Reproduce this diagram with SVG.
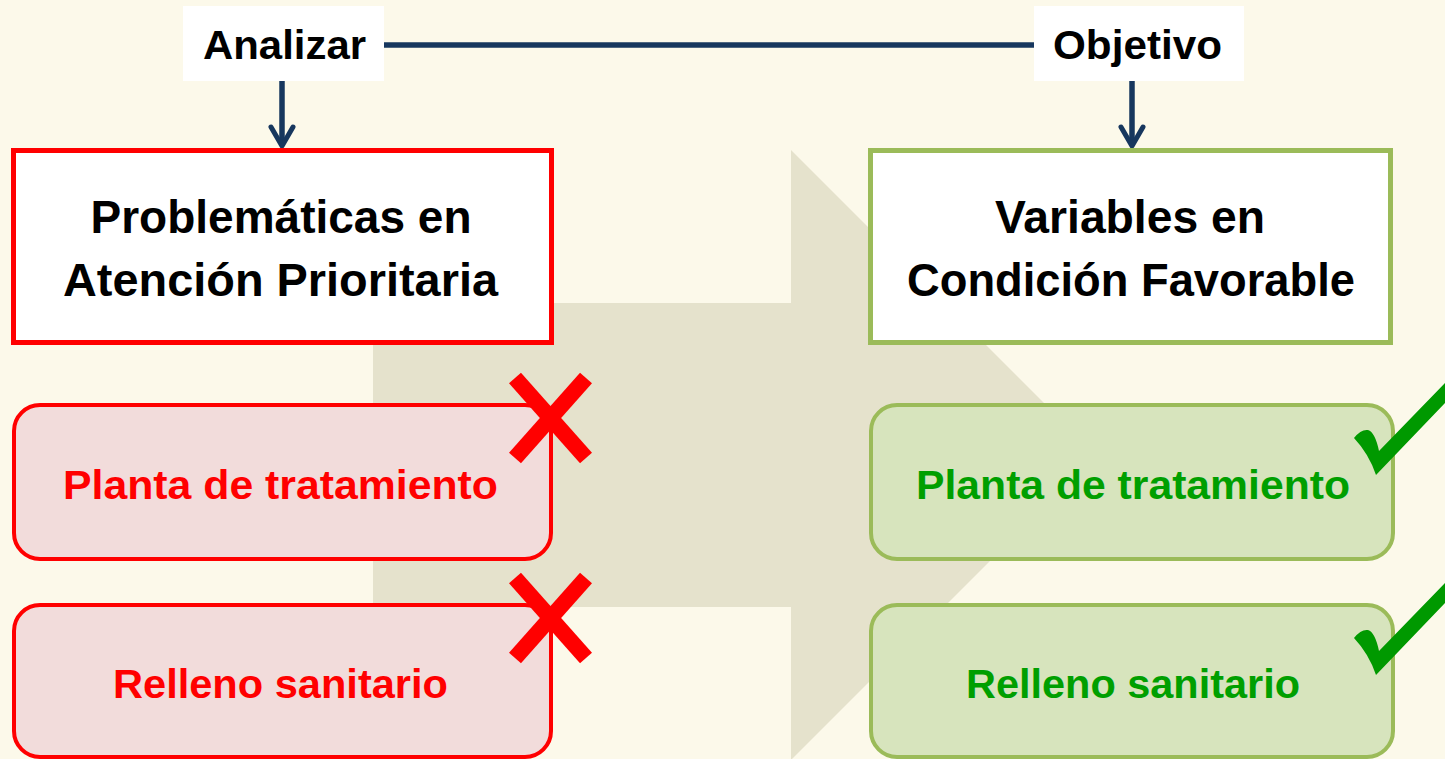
<svg xmlns="http://www.w3.org/2000/svg" width="1445" height="759" viewBox="0 0 1445 759">
<defs>
<style>
.bg{fill:#FCF9EA}
.bigarrow{fill:#E5E2CC}
.lbl{fill:#FFFFFF}
.t{font-family:"Liberation Sans",Arial,sans-serif;font-weight:bold;text-anchor:middle}
.hd{fill:#000000;font-size:47px}
.lb{fill:#000000;font-size:40px}
.it{font-size:40px}
.redbox{fill:#FFFFFF;stroke:#FF0000;stroke-width:5}
.greenbox{fill:#FFFFFF;stroke:#9BBB59;stroke-width:5}
.reditem{fill:#F2DCDB;stroke:#FF0000;stroke-width:4}
.greenitem{fill:#D7E4BD;stroke:#9BBB59;stroke-width:4}
.redtxt{fill:#FF0000}
.greentxt{fill:#009F00}
.conn{stroke:#17375E;stroke-width:5.5;fill:none}
.cross{stroke:#FF0000;stroke-width:16;stroke-linecap:butt}
.check{fill:#009900}
</style>
<marker id="chev" viewBox="-25 -15 30 30" markerWidth="30" markerHeight="30" refX="0" refY="0" orient="auto" markerUnits="userSpaceOnUse">
<path d="M-19,-11 L0,0 L-19,11" fill="none" stroke="#17375E" stroke-width="5" stroke-linecap="round" stroke-linejoin="round"/>
</marker>
</defs>
<rect class="bg" x="0" y="0" width="1445" height="759"/>
<g id="big-arrow">
<path class="bigarrow" d="M373,303 L791,303 L791,150 L1096,455 L791,760 L791,607 L373,607 Z"/>
</g>
<g id="connectors">
<line class="conn" x1="384" y1="45" x2="1034" y2="45"/>
<line class="conn" x1="282" y1="81" x2="282" y2="146" marker-end="url(#chev)"/>
<line class="conn" x1="1132" y1="81" x2="1132" y2="146" marker-end="url(#chev)"/>
</g>
<g id="analizar">
<rect class="lbl" x="183" y="6" width="201" height="75"/>
<text class="t lb" x="284.5" y="59" textLength="163" lengthAdjust="spacingAndGlyphs">Analizar</text>
</g>
<g id="objetivo">
<rect class="lbl" x="1034" y="6" width="210" height="75"/>
<text class="t lb" x="1137.5" y="59" textLength="169" lengthAdjust="spacingAndGlyphs">Objetivo</text>
</g>
<g id="problematicas">
<rect class="redbox" x="13.5" y="150.5" width="538" height="192"/>
<text class="t hd" x="281" y="233" textLength="381" lengthAdjust="spacingAndGlyphs">Problemáticas en</text>
<text class="t hd" x="280.5" y="296" textLength="435" lengthAdjust="spacingAndGlyphs">Atención Prioritaria</text>
</g>
<g id="variables">
<rect class="greenbox" x="870.5" y="150.5" width="520" height="192"/>
<text class="t hd" x="1130" y="233" textLength="270" lengthAdjust="spacingAndGlyphs">Variables en</text>
<text class="t hd" x="1131" y="296" textLength="448" lengthAdjust="spacingAndGlyphs">Condición Favorable</text>
</g>
<g id="red-planta">
<rect class="reditem" x="14" y="405" width="537" height="154" rx="26" ry="26"/>
<text class="t it redtxt" x="280.5" y="499" textLength="435" lengthAdjust="spacingAndGlyphs">Planta de tratamiento</text>
</g>
<g id="red-relleno">
<rect class="reditem" x="14" y="605" width="537" height="152" rx="26" ry="26"/>
<text class="t it redtxt" x="280.5" y="698" textLength="335" lengthAdjust="spacingAndGlyphs">Relleno sanitario</text>
</g>
<g id="green-planta">
<rect class="greenitem" x="871" y="405" width="522" height="154" rx="26" ry="26"/>
<text class="t it greentxt" x="1133" y="499" textLength="434" lengthAdjust="spacingAndGlyphs">Planta de tratamiento</text>
</g>
<g id="green-relleno">
<rect class="greenitem" x="871" y="605" width="522" height="152" rx="26" ry="26"/>
<text class="t it greentxt" x="1133" y="698" textLength="334" lengthAdjust="spacingAndGlyphs">Relleno sanitario</text>
</g>
<g id="cross-1">
<line class="cross" x1="515" y1="378" x2="586" y2="458"/>
<line class="cross" x1="586" y1="378" x2="515" y2="458"/>
</g>
<g id="cross-2">
<line class="cross" x1="515" y1="578" x2="586" y2="658"/>
<line class="cross" x1="586" y1="578" x2="515" y2="658"/>
</g>
<g id="check-1">
<path class="check" d="M1354,438 Q1361,429 1368,430 Q1375,432 1379,451 L1445,383 L1445,403 L1376,475 Q1369,454 1354,438 Z"/>
</g>
<g id="check-2">
<path class="check" d="M1354,638 Q1361,629 1368,630 Q1375,632 1379,651 L1445,583 L1445,603 L1376,675 Q1369,654 1354,638 Z"/>
</g>
</svg>
